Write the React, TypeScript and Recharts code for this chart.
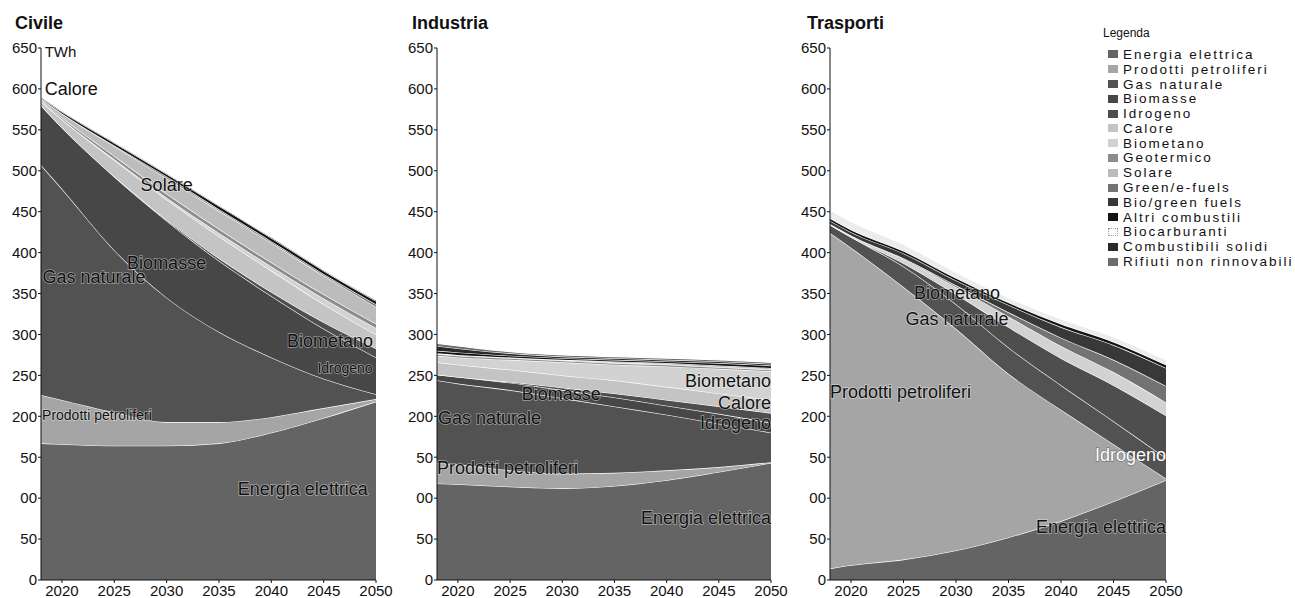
import React from "react";
import { AreaChart, Area, XAxis, YAxis, ReferenceDot } from "recharts";

const FONT = '"Liberation Sans", Arial, Helvetica, sans-serif';

// years on the x axis
const years = [2018, 2020, 2025, 2030, 2035, 2040, 2045, 2050];
const yearTicks = [2020, 2025, 2030, 2035, 2040, 2045, 2050];
const valueTicks = [0, 50, 100, 150, 200, 250, 300, 350, 400, 450, 500, 550, 600, 650];

const sources = [
  "Energia elettrica",
  "Prodotti petroliferi",
  "Gas naturale",
  "Biomasse",
  "Idrogeno",
  "Calore",
  "Biometano",
  "Geotermico",
  "Solare",
  "Green/e-fuels",
  "Bio/green fuels",
  "Altri combustili",
  "Biocarburanti",
  "Combustibili solidi",
  "Rifiuti non rinnovabili",
];

// Civile (TWh)
const civElettrica = [167, 166, 164, 164, 167, 180, 198, 218];
const civPetroliferi = [59, 54, 41, 29, 26, 19, 12, 3];
const civGas = [281, 258, 198, 152, 110, 73, 36, 6];
const civBiomasse = [73, 75, 90, 94, 87, 75, 61, 45];
const civIdrogeno = [0, 0, 0, 1, 3, 5, 8, 11];
const civCalore = [5, 10, 20, 25, 27, 26, 22, 17];
const civBiometano = [0, 0, 1, 2, 4, 5, 7, 8];
const civGeotermico = [1, 2, 4, 5, 5, 5, 5, 5];
const civSolare = [2, 5, 12, 19, 22, 24, 23, 21];
const civGreen = [0, 0, 1, 2, 2, 2, 2, 3];
const civAltri = [1, 2, 3, 3, 4, 4, 4, 4];
const civSolidi = [1, 1, 1, 1, 1, 1, 1, 1];

// Industria (TWh)
const indElettrica = [118, 117, 114, 112, 115, 122, 132, 143];
const indPetroliferi = [25, 24, 20, 18, 16, 12, 6, 1];
const indGas = [101, 99, 98, 92, 81, 68, 53, 36];
const indBiomasse = [7, 8, 9, 10, 11, 11, 12, 12];
const indIdrogeno = [0, 0, 1, 3, 5, 7, 9, 12];
const indCalore = [15, 15, 15, 15, 16, 16, 16, 16];
const indBiometano = [8, 9, 12, 16, 19, 25, 30, 35];
const indGeotermico = [2, 2, 2, 2, 2, 2, 2, 2];
const indSolare = [1, 1, 1, 1, 1, 1, 1, 1];
const indGreen = [0, 0, 0, 0, 1, 1, 1, 1];
const indAltri = [3, 3, 2, 2, 2, 2, 3, 3];
const indSolidi = [6, 5, 3, 2, 2, 2, 2, 2];
const indRifiuti = [3, 3, 2, 2, 2, 2, 2, 2];

// Trasporti (TWh)
const traElettrica = [14, 18, 25, 36, 52, 72, 96, 122];
const traPetroliferi = [410, 388, 333, 271, 200, 136, 70, 2];
const traGas = [10, 13, 25, 30, 32, 30, 28, 25];
const traIdrogeno = [0, 0, 4, 12, 25, 33, 44, 52];
const traBiometano = [1, 2, 5, 9, 13, 15, 16, 16];
const traGreen = [0, 0, 1, 2, 5, 10, 15, 20];
const traBioGreen = [4, 4, 6, 6, 9, 13, 18, 22];
const traAltri = [3, 3, 3, 3, 3, 4, 4, 4];
const traBiocarburanti = [10, 10, 8, 7, 6, 6, 6, 6];

const fills: Record<string, string> = {
  "Energia elettrica": "#646464",
  "Prodotti petroliferi": "#a5a5a5",
  "Gas naturale": "#525252",
  "Biomasse": "#474747",
  "Idrogeno": "#4e4e4e",
  "Calore": "#c4c4c4",
  "Biometano": "#d2d2d2",
  "Geotermico": "#8c8c8c",
  "Solare": "#bcbcbc",
  "Green/e-fuels": "#737373",
  "Bio/green fuels": "#383838",
  "Altri combustili": "#141414",
  "Biocarburanti": "#ececec",
  "Combustibili solidi": "#2a2a2a",
  "Rifiuti non rinnovabili": "#6c6c6c",
};

type Col = [string, number[]];

function buildRows(cols: Col[]) {
  return years.map((year, i) => {
    const row: Record<string, number> = { year };
    cols.forEach(([k, v]) => {
      row[k] = v[i];
    });
    return row;
  });
}

const civileCols: Col[] = [
  ["Energia elettrica", civElettrica],
  ["Prodotti petroliferi", civPetroliferi],
  ["Gas naturale", civGas],
  ["Biomasse", civBiomasse],
  ["Idrogeno", civIdrogeno],
  ["Calore", civCalore],
  ["Biometano", civBiometano],
  ["Geotermico", civGeotermico],
  ["Solare", civSolare],
  ["Green/e-fuels", civGreen],
  ["Altri combustili", civAltri],
  ["Combustibili solidi", civSolidi],
];

const industriaCols: Col[] = [
  ["Energia elettrica", indElettrica],
  ["Prodotti petroliferi", indPetroliferi],
  ["Gas naturale", indGas],
  ["Biomasse", indBiomasse],
  ["Idrogeno", indIdrogeno],
  ["Calore", indCalore],
  ["Biometano", indBiometano],
  ["Geotermico", indGeotermico],
  ["Solare", indSolare],
  ["Green/e-fuels", indGreen],
  ["Altri combustili", indAltri],
  ["Combustibili solidi", indSolidi],
  ["Rifiuti non rinnovabili", indRifiuti],
];

const trasportiCols: Col[] = [
  ["Energia elettrica", traElettrica],
  ["Prodotti petroliferi", traPetroliferi],
  ["Gas naturale", traGas],
  ["Idrogeno", traIdrogeno],
  ["Biometano", traBiometano],
  ["Green/e-fuels", traGreen],
  ["Bio/green fuels", traBioGreen],
  ["Altri combustili", traAltri],
  ["Biocarburanti", traBiocarburanti],
];

// in-chart labels: [text, year, value, anchor]
type Note = [string, number, number, "start" | "middle" | "end"];

const civileNotes: Note[] = [
  ["TWh", 2018.35, 646, "start"],
  ["Calore", 2018.35, 600, "start"],
  ["Solare", 2030, 483, "middle"],
  ["Biomasse", 2030, 388, "middle"],
  ["Gas naturale", 2018.15, 371, "start"],
  ["Biometano", 2041.5, 293, "start"],
  ["Idrogeno", 2044.4, 259, "start"],
  ["Prodotti petroliferi", 2018.1, 202, "start"],
  ["Energia elettrica", 2036.8, 112, "start"],
];

const industriaNotes: Note[] = [
  ["Biomasse", 2029.9, 228, "middle"],
  ["Gas naturale", 2018.1, 198, "start"],
  ["Prodotti petroliferi", 2018.0, 137, "start"],
  ["Biometano", 2050, 244, "end"],
  ["Calore", 2050, 217, "end"],
  ["Idrogeno", 2050, 193, "end"],
  ["Energia elettrica", 2050, 76, "end"],
];

const trasportiNotes: Note[] = [
  ["Biometano", 2030.1, 351, "middle"],
  ["Gas naturale", 2030.1, 320, "middle"],
  ["Prodotti petroliferi", 2018.0, 230, "start"],
  ["Idrogeno", 2050, 153, "end"],
  ["Energia elettrica", 2050, 65, "end"],
];

const smallNotes = ["Idrogeno|civ", "Prodotti petroliferi|civ"];

const fmtValue = (v: number) => (v === 150 ? "50" : v === 100 ? "00" : String(v));

const tickStyle = { fill: "#111", fontSize: 15, fontFamily: FONT };

function noteLabel(text: string, anchor: string, size: number, inverted: boolean, plain: boolean) {
  return (props: any) => {
    const vb = props.viewBox || {};
    const x = (vb.x || 0) + (vb.width || 0) / 2;
    const y = (vb.y || 0) + (vb.height || 0) / 2;
    return (
      <text
        x={x}
        y={y}
        dy="0.36em"
        textAnchor={anchor}
        fontSize={size}
        fontFamily={FONT}
        fill={inverted ? "#fff" : "#111"}
        stroke={plain ? "none" : inverted ? "#444" : "#fff"}
        strokeOpacity={plain ? 0 : 0.45}
        strokeWidth={plain ? 0 : 1.5}
        paintOrder="stroke"
      >
        {text}
      </text>
    );
  };
}

interface PanelProps {
  id: string;
  title: string;
  titleLeft: number;
  left: number;
  right: number;
  cols: Col[];
  notes: Note[];
}

function Panel({ id, title, titleLeft, left, right, cols, notes }: PanelProps) {
  const rows = buildRows(cols);
  return (
    <>
      <div
        style={{
          position: "absolute",
          left: titleLeft,
          top: 13,
          fontSize: 18,
          fontWeight: 700,
          lineHeight: "20px",
          fontFamily: FONT,
          color: "#111",
        }}
      >
        {title}
      </div>
      <div style={{ position: "absolute", left, top: 0 }}>
        <AreaChart width={400} height={598} data={rows} margin={{ top: 48, right, bottom: 0, left: 5 }}>
          <XAxis
            dataKey="year"
            type="number"
            domain={[2018, 2050]}
            ticks={yearTicks}
            interval={0}
            height={18}
            tickSize={3}
            tickMargin={2}
            stroke="#111"
            tick={tickStyle}
          />
          <YAxis
            type="number"
            domain={[0, 650]}
            ticks={valueTicks}
            interval={0}
            width={36}
            tickSize={3}
            tickMargin={1}
            stroke="#111"
            tick={tickStyle}
            tickFormatter={fmtValue}
          />
          {cols.map(([k]) => (
            <Area
              key={k}
              type="monotone"
              dataKey={k}
              name={k}
              stackId="1"
              fill={fills[k]}
              fillOpacity={1}
              stroke="#fff"
              strokeWidth={1.2}
              dot={false}
              activeDot={false}
              isAnimationActive={false}
            />
          ))}
          {notes.map(([text, year, value, anchor]) => {
            const small = smallNotes.includes(`${text}|${id}`);
            const size = text === "TWh" ? 15 : small ? 14 : 18;
            const inverted = id === "tra" && text === "Idrogeno";
            return (
              <ReferenceDot
                key={text}
                x={year}
                y={value}
                r={0}
                fill="none"
                stroke="none"
                label={noteLabel(text, anchor, size, inverted, text === "TWh")}
              />
            );
          })}
        </AreaChart>
      </div>
    </>
  );
}

function Legenda() {
  return (
    <div style={{ position: "absolute", left: 1103, top: 26, fontFamily: FONT, color: "#111" }}>
      <div style={{ fontSize: 12, lineHeight: "14px", height: 21 }}>Legenda</div>
      {sources.map((s) => (
        <div key={s} style={{ display: "flex", alignItems: "center", height: 14.8, marginLeft: 5 }}>
          <span
            style={{
              display: "inline-block",
              width: 10,
              height: 8,
              background: s === "Biocarburanti" ? "#fff" : fills[s],
              border: s === "Biocarburanti" ? "1px dotted #999" : "none",
              boxSizing: "border-box",
              marginRight: 5,
            }}
          />
          <span style={{ fontSize: 13.5, letterSpacing: 2, whiteSpace: "nowrap" }}>{s}</span>
        </div>
      ))}
    </div>
  );
}

export default function App() {
  return (
    <div
      style={{
        position: "absolute",
        left: 0,
        top: 0,
        width: 1295,
        height: 598,
        background: "#fff",
        overflow: "hidden",
      }}
    >
      <Panel id="civ" title="Civile" titleLeft={15} left={0} right={24} cols={civileCols} notes={civileNotes} />
      <Panel id="ind" title="Industria" titleLeft={412} left={396} right={25} cols={industriaCols} notes={industriaNotes} />
      <Panel id="tra" title="Trasporti" titleLeft={807} left={789} right={23} cols={trasportiCols} notes={trasportiNotes} />
      <Legenda />
    </div>
  );
}
